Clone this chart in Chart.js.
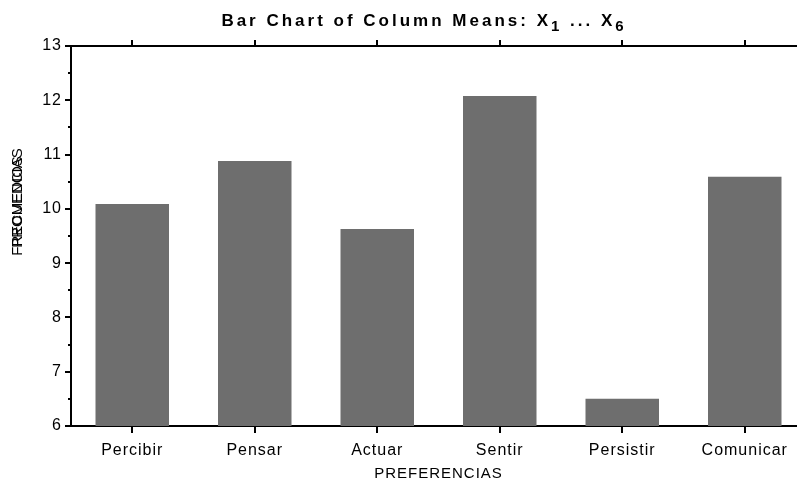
<!DOCTYPE html>
<html>
<head>
<meta charset="utf-8">
<script src="https://cdn.jsdelivr.net/npm/chart.js@4.4.1/dist/chart.umd.min.js"></script>
<style>
  html, body { margin: 0; padding: 0; background: #fff; overflow: hidden; }
  #wrap { width: 806px; height: 485px; }
</style>
</head>
<body>
<div id="wrap"><canvas id="meansChart"></canvas></div>
<script>
// data
const categories = ['Percibir', 'Pensar', 'Actuar', 'Sentir', 'Persistir', 'Comunicar'];
const means = [10.09, 10.88, 9.63, 12.08, 6.5, 10.59];
const yTicks = [6, 7, 8, 9, 10, 11, 12, 13];
const yMinorTicks = [6.5, 7.5, 8.5, 9.5, 10.5, 11.5, 12.5];

// title pieces: [text, isSubscript]
const titleParts = [['Bar Chart of Column Means: X', false], ['1', true], [' ... X', false], ['6', true]];
const yLabels = ['PROMEDIOS', 'FRECUENCIAS'];
const xLabel = 'PREFERENCIAS';

const FONT = "'Liberation Sans', Arial, sans-serif";

// wider letter spacing like the original renderer
const spacing = {
  id: 'spacing',
  beforeDraw(c) { c.ctx.letterSpacing = '1px'; }
};

// title, y axis label and minor ticks
const extras = {
  id: 'extras',
  afterDraw(c) {
    const ctx = c.ctx;
    const y = c.scales.y;
    ctx.save();
    ctx.fillStyle = '#000';
    ctx.textAlign = 'left';
    ctx.textBaseline = 'alphabetic';
    ctx.letterSpacing = '3px';
    const mainFont = 'bold 17px ' + FONT;
    const subFont = 'bold 15px ' + FONT;
    let total = 0;
    titleParts.forEach(([t, sub]) => {
      ctx.font = sub ? subFont : mainFont;
      total += ctx.measureText(t).width;
    });
    let x = 424 - total / 2;
    titleParts.forEach(([t, sub]) => {
      ctx.font = sub ? subFont : mainFont;
      ctx.fillText(t, x, sub ? 31 : 26);
      x += ctx.measureText(t).width;
    });

    ctx.letterSpacing = '0px';
    ctx.textAlign = 'center';
    ctx.textBaseline = 'middle';
    ctx.translate(18, 202);
    ctx.rotate(-Math.PI / 2);
    ctx.font = '15px ' + FONT;
    yLabels.forEach(t => ctx.fillText(t, 0, 0));
    ctx.restore();

    ctx.save();
    ctx.strokeStyle = '#000';
    ctx.lineWidth = 2;
    yMinorTicks.forEach(v => {
      const py = Math.round(y.getPixelForValue(v));
      ctx.beginPath();
      ctx.moveTo(y.right - 3, py);
      ctx.lineTo(y.right, py);
      ctx.stroke();
    });
    ctx.restore();
  }
};

new Chart(document.getElementById('meansChart').getContext('2d'), {
  type: 'bar',
  data: {
    labels: categories,
    datasets: [{
      data: means,
      backgroundColor: '#6e6e6e',
      borderWidth: 0,
      categoryPercentage: 1,
      barPercentage: 0.6
    }]
  },
  options: {
    responsive: true,
    maintainAspectRatio: false,
    animation: false,
    layout: { padding: 0 },
    plugins: {
      legend: { display: false },
      title: { display: false },
      tooltip: { enabled: false }
    },
    scales: {
      x: {
        position: 'bottom',
        afterFit: s => { s.height = 59; },
        grid: { offset: false, drawOnChartArea: false, drawTicks: true, tickLength: 7, color: '#000', lineWidth: 2 },
        border: { display: true, color: '#000', width: 2 },
        ticks: { color: '#000', font: { family: FONT, size: 16 }, padding: 8, maxRotation: 0 },
        title: { display: true, text: xLabel, color: '#000', font: { family: FONT, size: 15 }, padding: { top: 0, bottom: 2 } }
      },
      xTop: {
        type: 'category',
        labels: categories,
        position: 'top',
        offset: true,
        afterFit: s => { s.height = 46; },
        grid: { offset: false, drawOnChartArea: false, drawTicks: true, tickLength: 6, color: '#000', lineWidth: 2 },
        border: { display: true, color: '#000', width: 2 },
        ticks: { display: false }
      },
      y: {
        min: 6,
        max: 13,
        afterFit: s => { s.width = 71; },
        afterBuildTicks: s => { s.ticks = yTicks.map(v => ({ value: v })); },
        grid: { drawOnChartArea: false, drawTicks: true, tickLength: 6, color: '#000', lineWidth: 2 },
        border: { display: true, color: '#000', width: 2 },
        ticks: { color: '#000', font: { family: FONT, size: 16 }, padding: 3 }
      }
    }
  },
  plugins: [spacing, extras]
});
</script>
</body>
</html>
